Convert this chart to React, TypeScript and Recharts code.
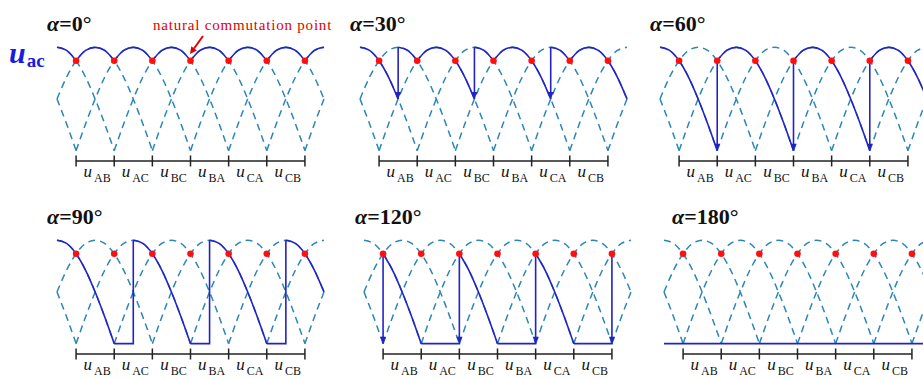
import { ComposedChart, Line, Scatter, XAxis, YAxis } from "recharts";

// one arch = positive half of a line voltage, sampled every 15° (0.25 of a 60° step)
const archOffsets = [-1.5, -1.25, -1, -0.75, -0.5, -0.25, 0, 0.25, 0.5, 0.75, 1, 1.25, 1.5];
const archLevels = [0, 0.26, 0.5, 0.71, 0.87, 0.97, 1, 0.97, 0.87, 0.71, 0.5, 0.26, 0];
const archPeaks = [-1, 0, 1, 2, 3, 4, 5, 6, 7, 8];

const commutationPoints = [0.5, 1.5, 2.5, 3.5, 4.5, 5.5, 6.5];
const COMMUTATION_LEVEL = 0.87;
const axisTicks = [0.5, 1.5, 2.5, 3.5, 4.5, 5.5, 6.5];
const AXIS_LEVEL = -0.1;
const labelPositions = [1, 2, 3, 4, 5, 6];
const phaseLabels = ["AB", "AC", "BC", "BA", "CA", "CB"];

type Arc = [number, number, number]; // peak, from, to
type Pt = [number, number];

const arcs0: Arc[] = [[0, 0, 0.5], [1, 0.5, 1.5], [2, 1.5, 2.5], [3, 2.5, 3.5], [4, 3.5, 4.5], [5, 4.5, 5.5], [6, 5.5, 6.5], [7, 6.5, 7]];
const jumps0: Pt[][] = [];
const arrows0: Pt[] = [];

const arcs30: Arc[] = [[0, 0, 1], [1, 1, 1.5], [2, 1.5, 3], [3, 3, 3.5], [4, 3.5, 5], [5, 5, 5.5], [6, 5.5, 7]];
const jumps30: Pt[][] = [[[1, 0.5], [1, 1]], [[3, 0.5], [3, 1]], [[5, 0.5], [5, 1]]];
const arrows30: Pt[] = [[1, 0.5], [3, 0.5], [5, 0.5]];

const arcs60: Arc[] = [[0, 0, 1.5], [2, 1.5, 3.5], [4, 3.5, 5.5], [6, 5.5, 7]];
const jumps60: Pt[][] = [[[1.5, 0], [1.5, 0.87]], [[3.5, 0], [3.5, 0.87]], [[5.5, 0], [5.5, 0.87]]];
const arrows60: Pt[] = [[1.5, 0], [3.5, 0], [5.5, 0]];

const arcs90: Arc[] = [[0, 0, 1.5], [2, 2, 3.5], [4, 4, 5.5], [6, 6, 7]];
const jumps90: Pt[][] = [[[1.5, 0], [2, 0], [2, 1]], [[3.5, 0], [4, 0], [4, 1]], [[5.5, 0], [6, 0], [6, 1]]];
const arrows90: Pt[] = [];

const arcs120: Arc[] = [[0, 0.5, 1.5], [2, 2.5, 3.5], [4, 4.5, 5.5]];
const jumps120: Pt[][] = [[[0.5, 0.87], [0.5, 0]], [[1.5, 0], [2.5, 0], [2.5, 0.87]], [[3.5, 0], [4.5, 0], [4.5, 0.87]], [[5.5, 0], [6.5, 0], [6.5, 0.87]]];
const arrows120: Pt[] = [[0.5, 0], [2.5, 0], [4.5, 0], [6.5, 0]];

const arcs180: Arc[] = [];
const jumps180: Pt[][] = [[[0, 0], [7, 0]]];
const arrows180: Pt[] = [];

const DASH = "#2b86b8";
const SOLID = "#2323c4";
const FONT = "'Liberation Serif', 'Times New Roman', serif";

const archPoints = (peak: number, from: number, to: number) =>
  archOffsets
    .map((o, i) => ({ x: peak + o, y: archLevels[i] }))
    .filter((p) => p.x >= from && p.x <= to);

const PhaseTick = ({ x, y, payload }: any) => {
  const name = phaseLabels[labelPositions.indexOf(payload.value)];
  return (
    <text x={x + 2} y={y + 7} textAnchor="middle" fontFamily={FONT} fill="#111">
      <tspan fontStyle="italic" fontSize={17}>u</tspan>
      <tspan fontSize={12} dx={2} dy={5}>{name}</tspan>
    </text>
  );
};

interface PanelProps {
  left: number;
  top: number;
  arcs: Arc[];
  jumps: Pt[][];
  arrows: Pt[];
}

const Panel = ({ left, top, arcs, jumps, arrows }: PanelProps) => {
  const dashed = archPeaks.map((p) => archPoints(p, 0, 7)).filter((d) => d.length > 1);
  return (
    <div style={{ position: "absolute", left: left - 10, top: top - 10 }}>
      <ComposedChart width={287} height={165} margin={{ top: 10, right: 10, left: 10, bottom: 0 }}>
        <XAxis
          type="number"
          dataKey="x"
          domain={[0, 7]}
          ticks={labelPositions}
          axisLine={false}
          tickLine={false}
          height={30}
          interval={0}
          tick={<PhaseTick />}
        />
        <YAxis hide type="number" domain={[-0.11, 1.1]} />
        {dashed.map((d, i) => (
          <Line
            key={"d" + i}
            data={d}
            dataKey="y"
            type="monotone"
            stroke={DASH}
            strokeWidth={1.5}
            strokeDasharray="7 5"
            dot={false}
            isAnimationActive={false}
          />
        ))}
        {arcs.map(([p, f, t], i) => (
          <Line
            key={"a" + i}
            data={archPoints(p, f, t)}
            dataKey="y"
            type="monotone"
            stroke={SOLID}
            strokeWidth={1.6}
            dot={false}
            isAnimationActive={false}
          />
        ))}
        {jumps.map((pts, i) => (
          <Line
            key={"j" + i}
            data={pts.map(([x, y]) => ({ x, y }))}
            dataKey="y"
            type="linear"
            stroke={SOLID}
            strokeWidth={1.6}
            dot={false}
            isAnimationActive={false}
          />
        ))}
        <Line
          data={[{ x: axisTicks[0], y: AXIS_LEVEL }, { x: axisTicks[axisTicks.length - 1], y: AXIS_LEVEL }]}
          dataKey="y"
          type="linear"
          stroke="#222"
          strokeWidth={1.5}
          dot={false}
          isAnimationActive={false}
        />
        <Scatter
          data={axisTicks.map((x) => ({ x, y: AXIS_LEVEL }))}
          dataKey="y"
          isAnimationActive={false}
          shape={(s: any) => <line x1={s.cx} x2={s.cx} y1={s.cy - 5.5} y2={s.cy + 5.5} stroke="#222" strokeWidth={1.5} />}
        />
        <Scatter
          data={arrows.map(([x, y]) => ({ x, y }))}
          dataKey="y"
          isAnimationActive={false}
          shape={(s: any) => (
            <polygon points={`${s.cx},${s.cy} ${s.cx - 3},${s.cy - 7} ${s.cx + 3},${s.cy - 7}`} fill={SOLID} />
          )}
        />
        <Scatter
          data={commutationPoints.map((x) => ({ x, y: COMMUTATION_LEVEL }))}
          dataKey="y"
          isAnimationActive={false}
          shape={(s: any) => <circle cx={s.cx} cy={s.cy} r={3.3} fill="#ff1010" />}
        />
      </ComposedChart>
    </div>
  );
};

const panels = [
  { title: "0°", tx: 47, ty: 30.5, left: 57, top: 37, arcs: arcs0, jumps: jumps0, arrows: arrows0 },
  { title: "30°", tx: 350, ty: 30.5, left: 360, top: 37, arcs: arcs30, jumps: jumps30, arrows: arrows30 },
  { title: "60°", tx: 650, ty: 30.5, left: 660, top: 37, arcs: arcs60, jumps: jumps60, arrows: arrows60 },
  { title: "90°", tx: 47, ty: 223.5, left: 57, top: 230, arcs: arcs90, jumps: jumps90, arrows: arrows90 },
  { title: "120°", tx: 355, ty: 223.5, left: 364, top: 230, arcs: arcs120, jumps: jumps120, arrows: arrows120 },
  { title: "180°", tx: 672, ty: 223.5, left: 664, top: 230, arcs: arcs180, jumps: jumps180, arrows: arrows180 },
];

export default function App() {
  return (
    <div style={{ position: "absolute", left: 0, top: 0, width: 923, height: 379, overflow: "hidden", background: "#fff" }}>
      {panels.map((p) => (
        <Panel key={p.title} left={p.left} top={p.top} arcs={p.arcs} jumps={p.jumps} arrows={p.arrows} />
      ))}
      <svg width={923} height={379} style={{ position: "absolute", left: 0, top: 0, pointerEvents: "none" }}>
        {panels.map((p) => (
          <text key={p.title} x={p.tx} y={p.ty} fontFamily={FONT} fontWeight="bold" fontSize={22} fill="#111">
            <tspan fontStyle="italic">α</tspan>={p.title}
          </text>
        ))}
        <text x={9} y={63} fontFamily={FONT} fontWeight="bold" fill="#1a1ae0">
          <tspan fontStyle="italic" fontSize={30}>u</tspan>
          <tspan fontSize={19} dx={1} dy={4}>ac</tspan>
        </text>
        <text x={153} y={30} fontFamily={FONT} fontSize={15} letterSpacing={0.8} fill="#e00000">
          natural commutation point
        </text>
        <line x1={203} y1={36} x2={194} y2={48.5} stroke="#e00000" strokeWidth={2} />
        <polygon points="190,54 196.9,50.4 191.3,46.3" fill="#e00000" />
      </svg>
    </div>
  );
}
